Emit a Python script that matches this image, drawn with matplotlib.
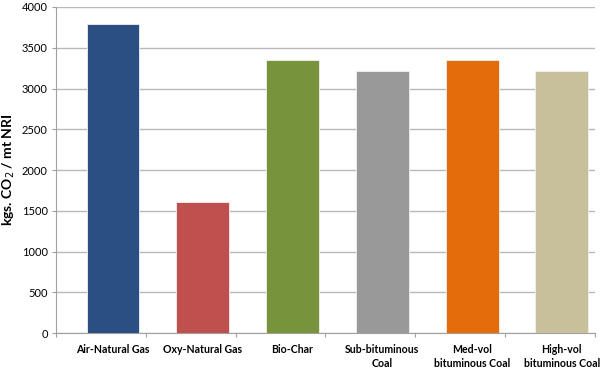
import matplotlib
matplotlib.use("Agg")
import matplotlib.pyplot as plt
import numpy as np

categories = ["Air-Natural Gas", "Oxy-Natural Gas", "Bio-Char",
              "Sub-bituminous\nCoal", "Med-vol\nbituminous Coal", "High-vol\nbituminous Coal"]
values = [3790, 1610, 3350, 3210, 3350, 3220]
colors = ["#2B4F82", "#C0504D", "#77933C", "#999999", "#E46C0A", "#C8C09A"]
yticks = [0, 500, 1000, 1500, 2000, 2500, 3000, 3500, 4000]

plt.rcParams['font.family'] = ['Lato', 'DejaVu Sans']

fig = plt.figure(figsize=(6.0, 3.68), dpi=100)
ax = fig.add_axes([0.0933, 0.095, 0.8984, 0.886])

x = np.arange(len(categories))
ax.bar(x, values, width=0.59, color=colors, edgecolor="#f0f0f0", linewidth=0.6, zorder=3)

ax.set_ylim(0, 4000)
ax.set_xlim(-0.635, 5.37)
ax.set_yticks(yticks)
ax.set_yticklabels([str(v) for v in yticks], fontsize=8)
ax.yaxis.grid(True, color="#b8b8b8", linewidth=1.0, zorder=0)

ax.set_xticks(x)
ax.set_xticklabels(categories, fontsize=7.6, fontweight="bold", linespacing=1.3)
ax.tick_params(axis="x", length=0, pad=8)
ax.set_xticks(np.arange(-0.635, 5.5, 1.0), minor=True)
ax.tick_params(axis="x", which="minor", length=3, color="#a0a0a0", width=0.8)
ax.tick_params(axis="y", length=3, color="#a0a0a0", width=0.8, pad=3)

for s in ["top", "right"]:
    ax.spines[s].set_visible(False)
for s in ["left", "bottom"]:
    ax.spines[s].set_color("#a0a0a0")
    ax.spines[s].set_linewidth(0.8)

fig.text(9 / 600, 1 - 170 / 368, "kgs. CO$_2$ / mt NRI", rotation=90,
         ha="center", va="center", fontsize=10, fontweight="bold")

fig.savefig("out.png", dpi=100)
